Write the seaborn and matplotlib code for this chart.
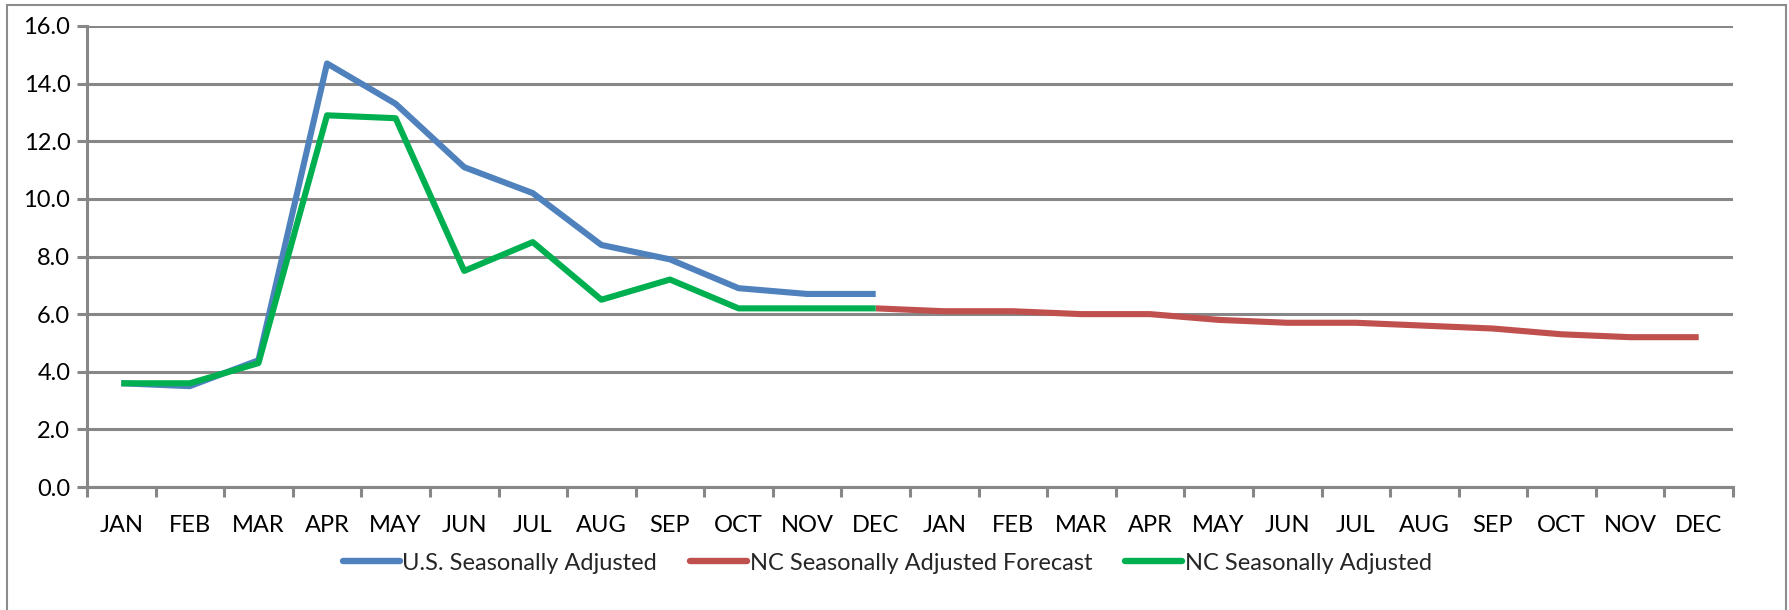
import matplotlib
matplotlib.use("Agg")
import matplotlib.pyplot as plt
import seaborn as sns
import pandas as pd
import numpy as np
from matplotlib.patches import Rectangle
from matplotlib.ticker import FixedLocator, NullFormatter, FixedFormatter

months = ["JAN", "FEB", "MAR", "APR", "MAY", "JUN", "JUL", "AUG", "SEP", "OCT", "NOV", "DEC",
          "JAN", "FEB", "MAR", "APR", "MAY", "JUN", "JUL", "AUG", "SEP", "OCT", "NOV", "DEC"]

us_sa = [3.6, 3.5, 4.4, 14.7, 13.3, 11.1, 10.2, 8.4, 7.9, 6.9, 6.7, 6.7]
nc_sa = [3.6, 3.6, 4.3, 12.9, 12.8, 7.5, 8.5, 6.5, 7.2, 6.2, 6.2, 6.2]
# forecast starts at first-year DEC (index 11)
nc_forecast = [6.2, 6.1, 6.1, 6.0, 6.0, 5.8, 5.7, 5.7, 5.6, 5.5, 5.3, 5.2, 5.2]

series_names = ["U.S. Seasonally Adjusted", "NC Seasonally Adjusted Forecast", "NC Seasonally Adjusted"]
colors = ["#4F81BD", "#C0504D", "#00B050"]

rows = []
for i, v in enumerate(us_sa):
    rows.append((i, v, series_names[0]))
for i, v in enumerate(nc_forecast):
    rows.append((11 + i, v, series_names[1]))
for i, v in enumerate(nc_sa):
    rows.append((i, v, series_names[2]))
df = pd.DataFrame(rows, columns=["pos", "value", "series"])

sns.set_theme(style="white")
plt.rcParams['font.family'] = ['Lato', 'DejaVu Sans']

W, H = 1789, 610
fig = plt.figure(figsize=(W / 100, H / 100), dpi=100)
L, R, T, B = 87, 1733, 26, 487
ax = fig.add_axes([L / W, 1 - B / H, (R - L) / W, (B - T) / H])

grid_c = "#878787"
fs = 17

sns.lineplot(data=df, x="pos", y="value", hue="series", hue_order=series_names,
             palette=colors, linewidth=4.4, ax=ax, legend=False, sort=True,
             solid_capstyle="butt", solid_joinstyle="round")

ax.set_xlim(-0.5, 23.5)
ax.set_ylim(0, 16)
ax.set_yticks(np.arange(0, 17, 2))
ax.set_yticklabels([f"{v:.1f}" for v in np.arange(0, 17, 2)])
ax.yaxis.grid(True, color=grid_c, linewidth=2.2)
ax.xaxis.grid(False)
ax.set_axisbelow(True)

ax.xaxis.set_major_locator(FixedLocator(np.arange(-0.5, 24, 1)))
ax.xaxis.set_major_formatter(NullFormatter())
ax.xaxis.set_minor_locator(FixedLocator(np.arange(0, 24)))
ax.xaxis.set_minor_formatter(FixedFormatter(months))
ax.tick_params(axis="x", which="major", direction="out", length=7, width=2.2, color=grid_c, bottom=True)
ax.tick_params(axis="x", which="minor", length=0, pad=20.5, labelsize=fs, labelcolor="black", bottom=True)
ax.tick_params(axis="y", direction="out", length=7, width=2.2, color=grid_c, left=True,
               labelsize=fs, labelcolor="black", pad=5)

for s in ["top", "right"]:
    ax.spines[s].set_visible(False)
for s in ["left", "bottom"]:
    ax.spines[s].set_color(grid_c)
    ax.spines[s].set_linewidth(2.2)

ax.set_xlabel("")
ax.set_ylabel("")

handles = [plt.Line2D([0], [0], color=c, linewidth=4.6, solid_capstyle="round") for c in colors]
fig.legend(handles, series_names, loc="center", bbox_to_anchor=(0.496, 1 - 563 / H), ncol=3,
           frameon=False, fontsize=fs, handlelength=2.4, handletextpad=0.12, columnspacing=1.4)

fig.patches.append(Rectangle((7 / W, -0.02), (1786 - 7) / W, 1 - 5 / H + 0.02, transform=fig.transFigure,
                             fill=False, edgecolor="#8C8C8C", linewidth=1.5))

fig.savefig("out.png", dpi=100)
